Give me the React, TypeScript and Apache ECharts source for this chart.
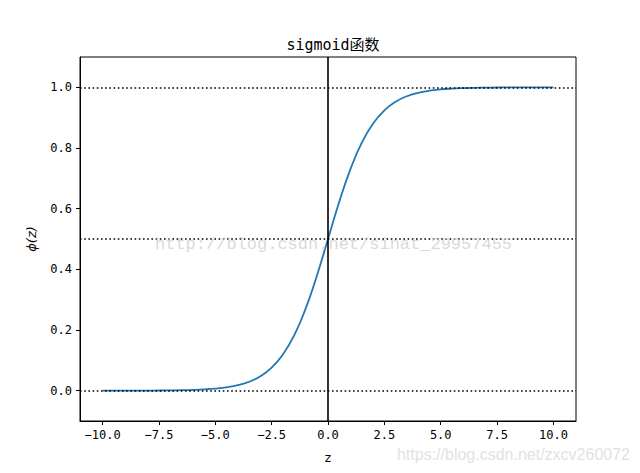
import React, { useEffect, useRef } from "react";
import * as echarts from "echarts";

const zValues = [
  -10, -9.5, -9, -8.5, -8, -7.5, -7, -6.5, -6, -5.5, -5, -4.5, -4, -3.5, -3, -2.5, -2, -1.5, -1, -0.5,
  0, 0.5, 1, 1.5, 2, 2.5, 3, 3.5, 4, 4.5, 5, 5.5, 6, 6.5, 7, 7.5, 8, 8.5, 9, 9.5, 10,
];
const phiValues = [
  0.0, 0.0001, 0.0001, 0.0002, 0.0003, 0.0006, 0.0009, 0.0015, 0.0025, 0.0041, 0.0067, 0.011, 0.018,
  0.0293, 0.0474, 0.0759, 0.1192, 0.1824, 0.2689, 0.3775, 0.5, 0.6225, 0.7311, 0.8176, 0.8808, 0.9241,
  0.9526, 0.9707, 0.982, 0.989, 0.9933, 0.9959, 0.9975, 0.9985, 0.9991, 0.9994, 0.9997, 0.9998, 0.9999,
  0.9999, 1.0,
];
const xTicks = [-10, -7.5, -5, -2.5, 0, 2.5, 5, 7.5, 10];
const yTicks = [0, 0.2, 0.4, 0.6, 0.8, 1.0];
const hLines = [0, 0.5, 1.0];
const vLines = [0];

const fmt = (v: number) => {
  const s = Math.abs(v).toFixed(1);
  return v < 0 ? "\u2212" + s : s;
};

export default function App() {
  const ref = useRef<HTMLDivElement>(null);
  useEffect(() => {
    document.body.style.margin = "0";
    const chart = echarts.init(ref.current!, null, { renderer: "svg" });
    const tickFont = "DejaVu Sans Mono, Noto Sans CJK SC, monospace";
    chart.setOption({
      animation: false,
      backgroundColor: "#ffffff",
      title: {
        text: "sigmoid函数",
        left: 328,
        textAlign: "center",
        top: 32,
        textStyle: { fontFamily: "DejaVu Sans Mono, Noto Sans CJK SC", fontSize: 15, fontWeight: "normal", color: "#000" },
      },
      grid: { left: 80, right: 64, top: 57, bottom: 52, show: true, borderColor: "#000", borderWidth: 1 },
      xAxis: {
        type: "value",
        min: -11,
        max: 11,
        name: "z",
        nameLocation: "middle",
        nameGap: 30,
        nameTextStyle: { fontFamily: tickFont, fontSize: 13, color: "#000" },
        axisLine: { show: true, onZero: false, lineStyle: { color: "#000", width: 1 } },
        axisTick: { show: true, length: 4, customValues: xTicks, lineStyle: { color: "#000" } },
        axisLabel: { customValues: xTicks, formatter: fmt, fontFamily: tickFont, fontSize: 12, color: "#000", margin: 8 },
        splitLine: { show: false },
      },
      yAxis: {
        type: "value",
        min: -0.1,
        max: 1.1,
        name: "\u03d5(z)",
        nameLocation: "middle",
        nameGap: 42,
        nameTextStyle: { fontFamily: "DejaVu Sans", fontStyle: "italic", fontSize: 13, color: "#000" },
        axisLine: { show: true, onZero: false, lineStyle: { color: "#000", width: 1 } },
        axisTick: { show: true, length: 4, customValues: yTicks, lineStyle: { color: "#000" } },
        axisLabel: { customValues: yTicks, formatter: fmt, fontFamily: tickFont, fontSize: 12, color: "#000", margin: 8 },
        splitLine: { show: false },
      },
      series: [
        {
          type: "line",
          data: zValues.map((z, i) => [z, phiValues[i]]),
          smooth: true,
          showSymbol: false,
          lineStyle: { color: "#1f77b4", width: 1.8 },
          z: 3,
          markLine: {
            silent: true,
            symbol: "none",
            label: { show: false },
            data: [
              ...hLines.map((y) => ({ yAxis: y, lineStyle: { color: "#000", width: 1.6, type: [1.6, 2.6] } })),
              ...vLines.map((x) => ({ xAxis: x, lineStyle: { color: "#000", width: 1.6, type: "solid" } })),
            ],
          },
        },
      ],
      graphic: [
        {
          type: "text",
          left: 155,
          top: 236,
          z: 100,
          style: {
            text: "http://blog.csdn.net/sinat_29957455",
            font: "17px 'Liberation Mono', monospace",
            fill: "rgba(205,205,205,0.75)",
          },
        },
        {
          type: "text",
          right: 10,
          top: 446,
          z: 100,
          style: {
            text: "https://blog.csdn.net/zxcv260072",
            font: "16px 'Liberation Sans', Arial, sans-serif",
            fill: "#e2e2e2",
          },
        },
      ],
    });
    return () => chart.dispose();
  }, []);
  return <div ref={ref} style={{ width: 640, height: 473 }} />;
}
